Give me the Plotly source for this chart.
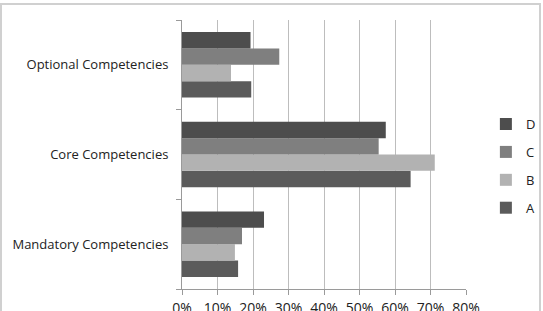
import plotly.graph_objects as go

categories = ["Mandatory Competencies", "Core Competencies", "Optional Competencies"]
series_names = ["A", "B", "C", "D"]
values_A = [0.158, 0.644, 0.195]
values_B = [0.149, 0.712, 0.138]
values_C = [0.169, 0.554, 0.274]
values_D = [0.231, 0.574, 0.193]
colors = ["#5b5b5b", "#b2b2b2", "#7f7f7f", "#4d4d4d"]
x_ticks = [0, 0.1, 0.2, 0.3, 0.4, 0.5, 0.6, 0.7, 0.8]
x_tick_labels = ["0%", "10%", "20%", "30%", "40%", "50%", "60%", "70%", "80%"]

fig = go.Figure()
n = len(series_names)
for i, (name, vals, col) in enumerate(zip(series_names, [values_A, values_B, values_C, values_D], colors)):
    fig.add_trace(go.Bar(
        y=categories, x=vals, name=name, orientation="h",
        marker=dict(color=col, line=dict(width=0)),
        legendgroup=name, legendrank=n - i,
    ))

fig.update_layout(
    width=543, height=311,
    margin=dict(l=182, r=77, t=20, b=22, autoexpand=False),
    paper_bgcolor="white", plot_bgcolor="white",
    barmode="group", bargap=0.27, bargroupgap=0,
    font=dict(family="Open Sans, sans-serif", color="#222222"),
    showlegend=True,
    legend=dict(
        traceorder="grouped", x=1.07, xanchor="left", xref="paper",
        y=0.457, yanchor="middle", font=dict(size=13),
        tracegroupgap=8, itemwidth=30, bgcolor="rgba(0,0,0,0)",
    ),
    shapes=[dict(type="rect", xref="paper", yref="paper",
                 x0=-181/284, x1=(540-182)/284, y0=-0.2, y1=(289-4)/269,
                 line=dict(color="#d0d0d0", width=2))],
)
fig.update_xaxes(
    range=[0, 0.8], tickvals=x_ticks, ticktext=x_tick_labels,
    showgrid=True, gridcolor="#bdbdbd", gridwidth=1,
    showline=True, linecolor="#9a9a9a", ticks="outside", ticklen=5,
    tickcolor="#9a9a9a", tickfont=dict(size=14, color="#222222"),
    zeroline=False, fixedrange=True, automargin=False, ticklabelstandoff=1,
)
fig.update_yaxes(
    showline=True, linecolor="#9a9a9a", ticks="outside", ticklen=5,
    tickcolor="#9a9a9a", tickson="boundaries", showgrid=False,
    tickfont=dict(size=13, color="#222222"), ticklabelstandoff=10,
    fixedrange=True, automargin=False,
)

fig.write_html("out.html")
